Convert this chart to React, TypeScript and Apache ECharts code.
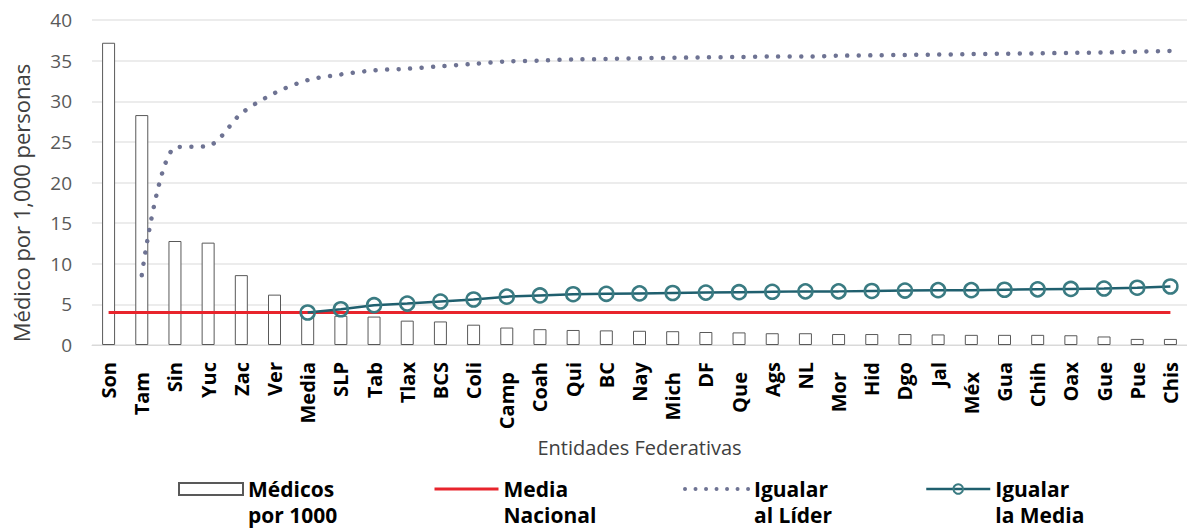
import React, { useEffect, useRef } from "react";
import * as echarts from "echarts";

const categories = [
  "Son", "Tam", "Sin", "Yuc", "Zac", "Ver", "Media", "SLP", "Tab", "Tlax", "BCS",
  "Coli", "Camp", "Coah", "Qui", "BC", "Nay", "Mich", "DF", "Que", "Ags", "NL",
  "Mor", "Hid", "Dgo", "Jal", "Méx", "Gua", "Chih", "Oax", "Gue", "Pue", "Chis",
];

const medicosPor1000 = [
  37.2, 28.3, 12.8, 12.6, 8.6, 6.2, 4.0, 3.6, 3.5, 3.0, 2.9,
  2.5, 2.15, 1.95, 1.85, 1.8, 1.75, 1.7, 1.6, 1.55, 1.45, 1.45,
  1.35, 1.35, 1.35, 1.3, 1.25, 1.25, 1.25, 1.2, 1.05, 0.75, 0.75,
];

const mediaNacional = categories.map(() => 4.0);

const igualarLider: (number | string)[] = [
  "-", 8.6, 24.3, 24.5, 28.5, 31.0, 32.6, 33.3, 33.8, 34.0, 34.3,
  34.6, 34.9, 35.0, 35.15, 35.2, 35.3, 35.35, 35.4, 35.45, 35.5, 35.5,
  35.6, 35.65, 35.7, 35.75, 35.8, 35.85, 35.9, 35.95, 36.0, 36.1, 36.2,
];

const igualarMedia: (number | string)[] = [
  "-", "-", "-", "-", "-", "-", 4.0, 4.4, 4.9, 5.1, 5.35,
  5.6, 5.95, 6.1, 6.25, 6.3, 6.35, 6.4, 6.45, 6.5, 6.55, 6.6,
  6.6, 6.65, 6.7, 6.75, 6.75, 6.8, 6.85, 6.9, 6.95, 7.05, 7.2,
];

const shiftedLabels = ["Tam", "Camp", "Mich", "Que", "Mor", "Méx"];

const FONT = "'Open Sans', 'Noto Sans', sans-serif";

export default function App() {
  const ref = useRef<HTMLDivElement>(null);

  useEffect(() => {
    if (!ref.current) return;
    const chart = echarts.init(ref.current, null, { renderer: "svg" });

    const legendText = {
      fontFamily: FONT,
      fontSize: 21,
      fontWeight: "bold" as const,
      color: "#000",
      lineHeight: 26,
    };
    const legendBase = {
      top: 450,
      padding: 0,
      itemWidth: 64,
      itemHeight: 12,
      textStyle: legendText,
      selectedMode: false,
      formatter: (name: string) => {
        const idx = name.indexOf(" ");
        return " \n" + name.slice(0, idx) + "\n" + name.slice(idx + 1);
      },
    };
    const hideSymbol = { opacity: 0 };

    chart.setOption({
      animation: false,
      backgroundColor: "#fff",
      textStyle: { fontFamily: FONT },
      grid: { left: 92, top: 20, width: 1099, height: 325 },
      legend: [
        { ...legendBase, left: 178, data: [{ name: "Médicos por 1000", icon: "rect" }] },
        {
          ...legendBase,
          left: 433,
          data: [{ name: "Media Nacional", itemStyle: hideSymbol, lineStyle: { width: 3 } }],
        },
        {
          ...legendBase,
          left: 683,
          data: [
            {
              name: "Igualar al Líder",
              itemStyle: hideSymbol,
              lineStyle: { width: 4, type: [0.01, 10.5], cap: "round" },
            },
          ],
        },
        { ...legendBase, left: 925, data: [{ name: "Igualar la Media", lineStyle: { width: 2.5 } }] },
      ],
      xAxis: {
        type: "category",
        data: categories,
        boundaryGap: true,
        axisLine: { lineStyle: { color: "#d9d9d9", width: 1 } },
        axisTick: { show: false },
        axisLabel: {
          interval: 0,
          rotate: 90,
          margin: 17,
          fontFamily: FONT,
          fontSize: 20,
          fontWeight: "bold",
          color: "#000",
          formatter: (v: string) => (shiftedLabels.includes(v) ? `{s|${v}}` : v),
          rich: {
            s: {
              fontFamily: FONT,
              fontSize: 20,
              fontWeight: "bold",
              color: "#000",
              padding: [0, 10, 0, 0],
            },
          },
        },
        name: "Entidades Federativas",
        nameLocation: "middle",
        nameGap: 87,
        nameTextStyle: { fontFamily: FONT, fontSize: 20, color: "#404040" },
      },
      yAxis: {
        type: "value",
        min: 0,
        max: 40,
        interval: 5,
        axisLine: { show: false },
        axisTick: { show: false },
        axisLabel: { fontFamily: FONT, fontSize: 19, color: "#595959", margin: 20 },
        splitLine: { lineStyle: { color: "#e6e6e6", width: 1.5 } },
      },
      graphic: [
        {
          type: "text",
          x: 21,
          y: 203,
          rotation: Math.PI / 2,
          style: {
            text: "Médico por 1,000 personas",
            fontFamily: FONT,
            fontSize: 22,
            fill: "#404040",
            align: "center",
            verticalAlign: "middle",
          },
        },
      ],
      series: [
        {
          name: "Médicos por 1000",
          type: "bar",
          data: medicosPor1000,
          barWidth: 13,
          itemStyle: { color: "#ffffff", borderColor: "#595959", borderWidth: 1 },
          z: 1,
        },
        {
          name: "Media Nacional",
          type: "line",
          data: mediaNacional,
          symbol: "none",
          color: "#e8242c",
          lineStyle: { color: "#e8242c", width: 3 },
          z: 2,
        },
        {
          name: "Igualar al Líder",
          type: "line",
          data: igualarLider,
          symbol: "none",
          smooth: 0.3,
          color: "#6e7393",
          lineStyle: { color: "#6e7393", width: 4.5, type: [0.01, 11.5], cap: "round" },
          z: 3,
        },
        {
          name: "Igualar la Media",
          type: "line",
          data: igualarMedia,
          symbol: "circle",
          symbolSize: 14,
          showAllSymbol: true,
          color: "#2f6f7a",
          lineStyle: { color: "#1f5f6e", width: 2.5 },
          itemStyle: { color: "rgba(255,255,255,0)", borderColor: "#3a7b82", borderWidth: 2.5 },
          z: 4,
        },
      ],
    });

    return () => chart.dispose();
  }, []);

  return (
    <div
      ref={ref}
      style={{ position: "fixed", left: 0, top: 0, width: 1187, height: 531, background: "#fff" }}
    />
  );
}
